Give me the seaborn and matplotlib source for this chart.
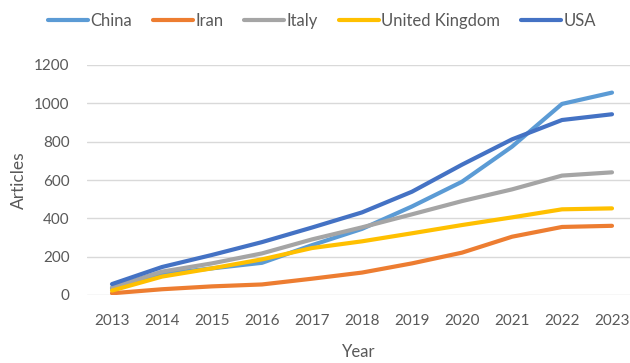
import matplotlib
matplotlib.use("Agg")
import matplotlib.pyplot as plt
import seaborn as sns
import pandas as pd

years = [2013, 2014, 2015, 2016, 2017, 2018, 2019, 2020, 2021, 2022, 2023]
china = [33, 110, 139, 168, 260, 345, 462, 591, 774, 997, 1056]
iran = [9, 30, 45, 55, 85, 117, 165, 221, 304, 355, 361]
italy = [40, 122, 165, 217, 290, 353, 421, 490, 551, 623, 640]
uk = [23, 96, 139, 186, 245, 280, 322, 365, 405, 447, 452]
usa = [57, 146, 209, 276, 352, 431, 539, 680, 812, 913, 943]

countries = ["China", "Iran", "Italy", "United Kingdom", "USA"]
colors = ["#5B9BD5", "#ED7D31", "#A5A5A5", "#FFC000", "#4472C4"]
yticks = [0, 200, 400, 600, 800, 1000, 1200]

rows = []
for name, vals in zip(countries, [china, iran, italy, uk, usa]):
    for y, v in zip(years, vals):
        rows.append({"Year": y, "Articles": v, "Country": name})
df = pd.DataFrame(rows)

sns.set_theme(style="white")
plt.rcParams['font.family'] = ['Lato', 'DejaVu Sans']
txt = "#595959"

fig = plt.figure(figsize=(6.3, 3.63), dpi=100)
ax = fig.add_axes([87/630, 1-295/363, 1-87/630, (295-65)/363])

sns.lineplot(data=df, x="Year", y="Articles", hue="Country", hue_order=countries,
             palette=colors, linewidth=3.0, ax=ax, legend=True, zorder=3)

ax.set_xlim(2012.5, 2012.5 + (630-87)/50)
ax.set_ylim(0, 1200)
ax.set_xticks(years)
ax.set_xticklabels([str(y) for y in years])
ax.set_yticks(yticks)
ax.set_yticklabels([str(t) for t in yticks])
ax.grid(axis="y", color="#D9D9D9", linewidth=1.0, zorder=0)
ax.grid(axis="x", visible=False)
for s in ax.spines.values():
    s.set_visible(False)
ax.tick_params(axis="both", length=0, labelsize=11, colors=txt)
ax.tick_params(axis="x", pad=14)
ax.tick_params(axis="y", pad=12.5)
ax.set_xlabel("Year", fontsize=12, color=txt, labelpad=11)
ax.set_ylabel("Articles", fontsize=12.5, color=txt, labelpad=5)

handles, labels = ax.get_legend_handles_labels()
ax.get_legend().remove()
fig.legend(handles, labels, loc="center", bbox_to_anchor=(322/630, 1-21/363), ncol=5,
           frameon=False, fontsize=12, handlelength=2.4, handletextpad=0.15,
           columnspacing=1.25, labelcolor=txt)

fig.savefig("out.png", dpi=100)
